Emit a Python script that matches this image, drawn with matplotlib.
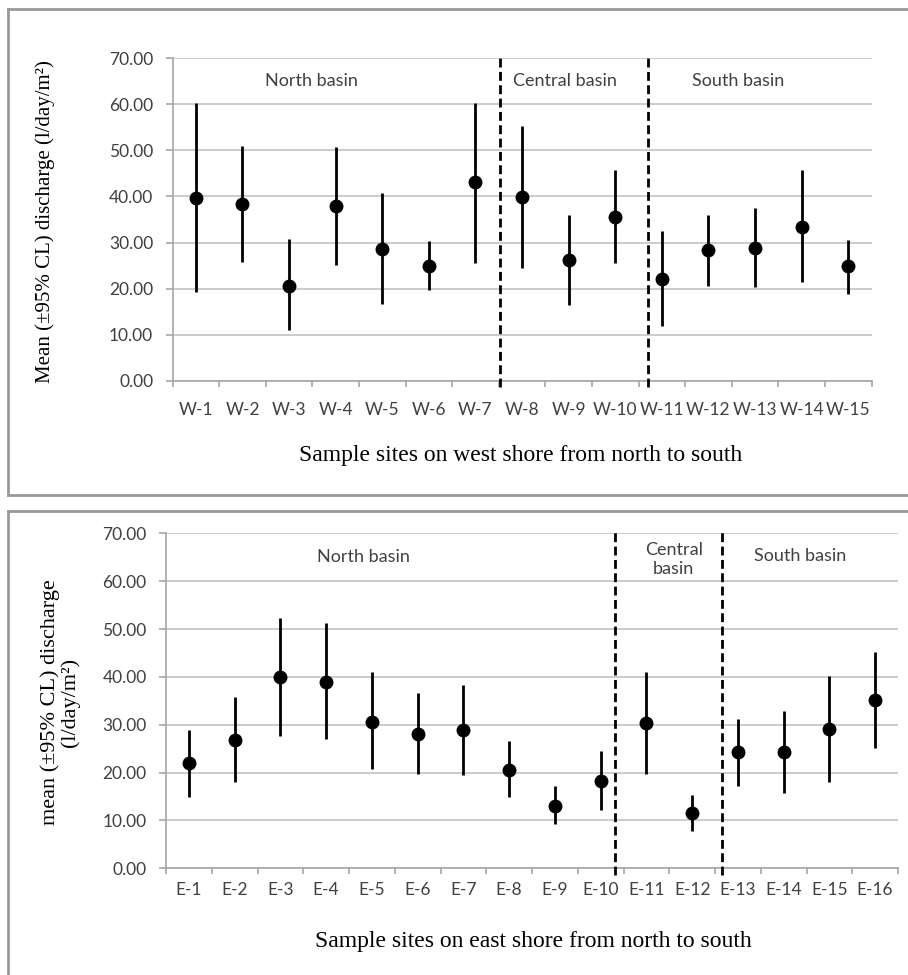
import numpy as np
import matplotlib.pyplot as plt

# west shore sites (top panel)
west_sites = ["W-1", "W-2", "W-3", "W-4", "W-5", "W-6", "W-7", "W-8",
              "W-9", "W-10", "W-11", "W-12", "W-13", "W-14", "W-15"]
west_mean = [39.7, 38.3, 20.6, 38.0, 28.7, 25.0, 43.2, 39.9,
             26.2, 35.6, 22.1, 28.4, 28.9, 33.4, 24.8]
west_upper = [60.4, 51.0, 30.8, 50.8, 40.8, 30.4, 60.4, 55.3,
              36.0, 45.7, 32.4, 36.0, 37.4, 45.7, 30.5]
west_lower = [19.2, 25.8, 10.9, 25.1, 16.7, 19.8, 25.6, 24.4,
              16.4, 25.5, 11.9, 20.6, 20.3, 21.4, 18.8]
west_dividers = [6.53, 9.7]

# east shore sites (bottom panel)
east_sites = ["E-1", "E-2", "E-3", "E-4", "E-5", "E-6", "E-7", "E-8",
              "E-9", "E-10", "E-11", "E-12", "E-13", "E-14", "E-15", "E-16"]
east_mean = [21.9, 26.8, 39.9, 39.0, 30.6, 28.1, 28.8, 20.5,
             13.1, 18.3, 30.4, 11.6, 24.2, 24.2, 29.1, 35.2]
east_upper = [29.0, 35.7, 52.4, 51.2, 41.0, 36.6, 38.2, 26.7,
              17.1, 24.6, 41.1, 15.3, 31.2, 32.9, 40.2, 45.1]
east_lower = [15.0, 18.1, 27.6, 27.0, 20.7, 19.7, 19.5, 14.8,
              9.3, 12.2, 19.7, 7.8, 17.2, 15.7, 18.1, 25.1]
east_dividers = [9.32, 11.66]

W, H = 908, 975
fig = plt.figure(figsize=(W / 100, H / 100), dpi=100)

tick_font = "Lato"
serif = "Liberation Serif"
grey = "#a6a6a6"
text_col = "#404040"


def px_axes(l, t, r, b):
    return fig.add_axes([l / W, 1 - b / H, (r - l) / W, (b - t) / H])


def draw_panel(ax, sites, mean, upper, lower, dividers, tickpad):
    x = np.arange(len(sites))
    m = np.array(mean)
    yerr = [m - np.array(lower), np.array(upper) - m]
    ax.errorbar(x, m, yerr=yerr, fmt="o", color="black", ms=9,
                elinewidth=2.0, capsize=0, zorder=3)
    ax.set_xlim(-0.5, len(sites) - 0.5)
    ax.set_ylim(0, 70)
    ax.set_yticks(np.arange(0, 71, 10))
    ax.set_yticklabels([f"{v:.2f}" for v in range(0, 71, 10)])
    ax.set_xticks(x)
    ax.set_xticklabels(sites)
    ax.set_xticks(np.arange(len(sites) + 1) - 0.5, minor=True)
    ax.grid(axis="y", color="#c4c4c4", lw=1.2, zorder=0)
    ax.set_axisbelow(True)
    for s in ["top", "right"]:
        ax.spines[s].set_visible(False)
    for s in ["left", "bottom"]:
        ax.spines[s].set_color(grey)
        ax.spines[s].set_linewidth(1.2)
    ax.tick_params(axis="x", which="major", length=0, pad=tickpad)
    ax.tick_params(axis="x", which="minor", length=4, color=grey, width=1.2)
    ax.tick_params(axis="y", length=5, color=grey, width=1.2, pad=9)
    for lab in ax.get_xticklabels() + ax.get_yticklabels():
        lab.set_fontfamily(tick_font)
        lab.set_fontsize(12.5)
        lab.set_color(text_col)
    for d in dividers:
        ax.plot([d, d], [-1.3, 70.5], color="black", lw=2.0,
                dashes=(3.2, 1.6), clip_on=False, zorder=4)


# frames around each panel
frame = dict(color="#999999", lw=2)
fig.add_artist(plt.Line2D([8 / W, 8 / W], [1 - 495 / H, 1 - 9 / H], **frame))
fig.add_artist(plt.Line2D([8 / W, 1], [1 - 9 / H, 1 - 9 / H], **frame))
fig.add_artist(plt.Line2D([8 / W, 1], [1 - 495 / H, 1 - 495 / H], **frame))
fig.add_artist(plt.Line2D([8 / W, 8 / W], [0, 1 - 511 / H], **frame))
fig.add_artist(plt.Line2D([8 / W, 1], [1 - 511 / H, 1 - 511 / H], **frame))

ax1 = px_axes(172.6, 58.3, 871.5, 380.7)
draw_panel(ax1, west_sites, west_mean, west_upper, west_lower, west_dividers, 15)
ax1.text(2.48, 65, "North basin", ha="center", va="center",
         fontfamily=tick_font, fontsize=13, color=text_col)
ax1.text(7.92, 65, "Central basin", ha="center", va="center",
         fontfamily=tick_font, fontsize=13, color=text_col)
ax1.text(11.63, 65, "South basin", ha="center", va="center",
         fontfamily=tick_font, fontsize=13, color=text_col)

ax2 = px_axes(166, 533.3, 898, 868.3)
draw_panel(ax2, east_sites, east_mean, east_upper, east_lower, east_dividers, 10)
ax2.text(3.81, 65, "North basin", ha="center", va="center",
         fontfamily=tick_font, fontsize=13, color=text_col)
ax2.text(10.6, 64.6, "Central\nbasin", ha="center", va="center",
         fontfamily=tick_font, fontsize=13, color=text_col, linespacing=1.25)
ax2.text(13.36, 65.2, "South basin", ha="center", va="center",
         fontfamily=tick_font, fontsize=13, color=text_col)

fig.text(521 / W, 1 - 455 / H, "Sample sites on west shore from north to south",
         ha="center", va="center", fontfamily=serif, fontsize=17)
fig.text(533 / W, 1 - 942 / H, "Sample sites on east shore from north to south",
         ha="center", va="center", fontfamily=serif, fontsize=17)
fig.text(45 / W, 1 - 222 / H, "Mean (\u00b195% CL) discharge (l/day/m\u00b2)",
         ha="center", va="center", rotation=90, fontfamily=serif, fontsize=15)
fig.text(60 / W, 1 - 702 / H, "mean (\u00b195% CL) discharge\n(l/day/m\u00b2)",
         ha="center", va="center", rotation=90, fontfamily=serif, fontsize=16,
         multialignment="center", linespacing=1.0)

fig.savefig("out.png", dpi=100)
